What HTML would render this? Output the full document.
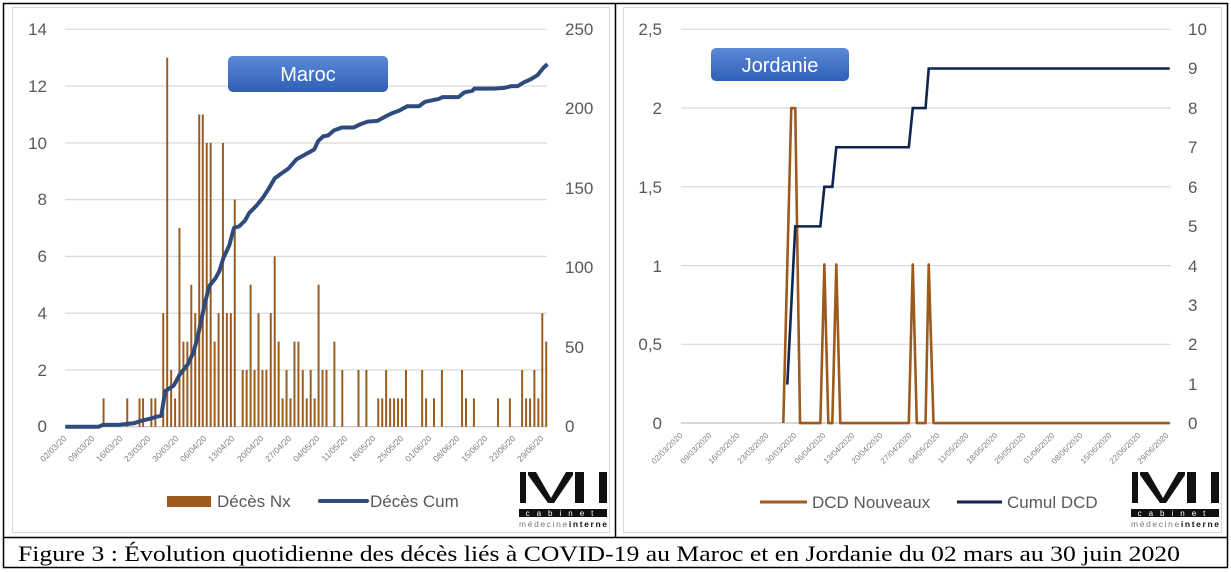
<!DOCTYPE html>
<html><head><meta charset="utf-8"><style>
body{margin:0;background:#fff;}
svg{display:block;font-family:"Liberation Sans",sans-serif;}
</style></head><body>
<svg width="1231" height="572" viewBox="0 0 1231 572" xmlns="http://www.w3.org/2000/svg">
<defs>
<linearGradient id="bg" x1="0" y1="0" x2="0" y2="1"><stop offset="0" stop-color="#5b8ad6"/><stop offset="1" stop-color="#2f5fb8"/></linearGradient>
<g id="logo">
<rect x="0" y="0" width="6" height="31" fill="#111"/>
<polygon points="8,0 16,0 31,26 46,0 53,0 53,3 34,31 28,31 8,3" fill="#111"/>
<rect x="55" y="0" width="9" height="31" fill="#111"/>
<rect x="79" y="0" width="8" height="31" fill="#111"/>
<rect x="-1" y="37" width="88" height="8" fill="#111"/>
<text x="43" y="44" font-size="8" fill="#fff" text-anchor="middle" letter-spacing="7">cabinet</text>
<text x="-1" y="55" font-size="8.5" fill="#777" textLength="88">médecine<tspan fill="#111" font-weight="bold">interne</tspan></text>
</g>
</defs>
<rect x="3.5" y="3.5" width="1224" height="564" fill="none" stroke="#000" stroke-width="1.5"/>
<line x1="3" y1="537.5" x2="1228" y2="537.5" stroke="#000" stroke-width="1.5"/>
<line x1="615.5" y1="3" x2="615.5" y2="537" stroke="#000" stroke-width="1.5"/>
<rect x="12.5" y="7.5" width="597" height="525" fill="none" stroke="#d9d9d9"/>
<rect x="623.5" y="7.5" width="598" height="525" fill="none" stroke="#d9d9d9"/>

<!-- LEFT CHART -->
<g stroke="#d9d9d9" stroke-width="1.2">
<line x1="65" y1="29.3" x2="547" y2="29.3"/><line x1="65" y1="86" x2="547" y2="86"/><line x1="65" y1="143" x2="547" y2="143"/><line x1="65" y1="199.6" x2="547" y2="199.6"/><line x1="65" y1="256.4" x2="547" y2="256.4"/><line x1="65" y1="313.2" x2="547" y2="313.2"/><line x1="65" y1="370" x2="547" y2="370"/><line x1="65" y1="426.7" x2="547" y2="426.7" stroke="#bfbfbf"/>
</g>
<g font-size="17" fill="#595959" text-anchor="end">
<text x="47" y="35">14</text><text x="47" y="92">12</text><text x="47" y="149">10</text><text x="47" y="205">8</text><text x="47" y="262">6</text><text x="47" y="319">4</text><text x="47" y="376">2</text><text x="47" y="432">0</text>
</g>
<g font-size="17" fill="#595959">
<text x="565" y="35">250</text><text x="565" y="114">200</text><text x="565" y="194">150</text><text x="565" y="273">100</text><text x="565" y="353">50</text><text x="565" y="432">0</text>
</g>
<g transform="scale(0.39526,0.36630)">
<path fill="#9c5a1c" d="M259.5 1165V1087.5h5V1165zM319.5 1165V1087.5h5V1165zM350.5 1165V1087.5h5V1165zM359.5 1165V1087.5h5V1165zM380.5 1165V1087.5h5V1165zM390.5 1165V1087.5h5V1165zM410.5 1165V855h5V1165zM420.5 1165V157.5h5V1165zM430.5 1165V1010h5V1165zM440.5 1165V1087.5h5V1165zM451.5 1165V622.5h5V1165zM461.5 1165V932.5h5V1165zM471.5 1165V932.5h5V1165zM481.5 1165V777.5h5V1165zM491.5 1165V855h5V1165zM501.5 1165V312.5h5V1165zM510.5 1165V312.5h5V1165zM520.5 1165V390h5V1165zM530.5 1165V390h5V1165zM540.5 1165V932.5h5V1165zM550.5 1165V855h5V1165zM561.5 1165V390h5V1165zM571.5 1165V855h5V1165zM581.5 1165V855h5V1165zM591.5 1165V545h5V1165zM611.5 1165V1010h5V1165zM621.5 1165V1010h5V1165zM631.5 1165V777.5h5V1165zM641.5 1165V1010h5V1165zM651.5 1165V855h5V1165zM661.5 1165V1010h5V1165zM671.5 1165V1010h5V1165zM682.5 1165V855h5V1165zM692.5 1165V700h5V1165zM702.5 1165V932.5h5V1165zM712.5 1165V1087.5h5V1165zM722.5 1165V1010h5V1165zM732.5 1165V1087.5h5V1165zM742.5 1165V932.5h5V1165zM752.5 1165V932.5h5V1165zM763.5 1165V1010h5V1165zM773.5 1165V1087.5h5V1165zM783.5 1165V1010h5V1165zM793.5 1165V1087.5h5V1165zM803.5 1165V777.5h5V1165zM813.5 1165V1010h5V1165zM823.5 1165V1010h5V1165zM843.5 1165V932.5h5V1165zM863.5 1165V1010h5V1165zM904.5 1165V1010h5V1165zM924.5 1165V1010h5V1165zM954.5 1165V1087.5h5V1165zM964.5 1165V1087.5h5V1165zM974.5 1165V1010h5V1165zM984.5 1165V1087.5h5V1165zM994.5 1165V1087.5h5V1165zM1004.5 1165V1087.5h5V1165zM1014.5 1165V1087.5h5V1165zM1024.5 1165V1010h5V1165zM1065.5 1165V1010h5V1165zM1075.5 1165V1087.5h5V1165zM1095.5 1165V1087.5h5V1165zM1115.5 1165V1010h5V1165zM1166.5 1165V1010h5V1165zM1176.5 1165V1087.5h5V1165zM1196.5 1165V1087.5h5V1165zM1257.5 1165V1087.5h5V1165zM1287.5 1165V1087.5h5V1165zM1318.5 1165V1010h5V1165zM1328.5 1165V1087.5h5V1165zM1338.5 1165V1087.5h5V1165zM1349.5 1165V1010h5V1165zM1359.5 1165V1087.5h5V1165zM1369.5 1165V855h5V1165zM1379.5 1165V932.5h5V1165z"/>
<polyline fill="none" stroke="#2f4b7c" stroke-width="4" stroke-linejoin="round" vector-effect="non-scaling-stroke" points="165,1165 250,1165 260,1160 300,1160 340,1155 360,1148 380,1143 395,1138 408,1135 418,1068 440,1052 455,1022 475,995 490,960 500,920 510,870 520,820 530,780 545,760 555,740 565,705 580,670 592,622 605,618 620,602 630,582 650,560 665,540 680,515 695,487 710,475 730,460 750,435 775,420 795,408 805,385 818,372 830,370 845,356 865,348 895,348 910,340 930,332 955,330 975,318 990,310 1010,302 1030,290 1060,290 1075,278 1110,270 1120,265 1160,265 1175,252 1195,248 1200,242 1250,242 1275,240 1295,235 1310,235 1325,225 1345,215 1360,205 1375,185 1385,175"/>
</g>
<g font-size="8.5" fill="#7f7f7f" text-anchor="end">
<text transform="translate(67,439) rotate(-45)">02/03/20</text>
<text transform="translate(95,439) rotate(-45)">09/03/20</text>
<text transform="translate(123,439) rotate(-45)">16/03/20</text>
<text transform="translate(151,439) rotate(-45)">23/03/20</text>
<text transform="translate(179,439) rotate(-45)">30/03/20</text>
<text transform="translate(207,439) rotate(-45)">06/04/20</text>
<text transform="translate(235,439) rotate(-45)">13/04/20</text>
<text transform="translate(264,439) rotate(-45)">20/04/20</text>
<text transform="translate(292,439) rotate(-45)">27/04/20</text>
<text transform="translate(320,439) rotate(-45)">04/05/20</text>
<text transform="translate(348,439) rotate(-45)">11/05/20</text>
<text transform="translate(376,439) rotate(-45)">18/05/20</text>
<text transform="translate(404,439) rotate(-45)">25/05/20</text>
<text transform="translate(432,439) rotate(-45)">01/06/20</text>
<text transform="translate(460,439) rotate(-45)">08/06/20</text>
<text transform="translate(488,439) rotate(-45)">15/06/20</text>
<text transform="translate(516,439) rotate(-45)">22/06/20</text>
<text transform="translate(544,439) rotate(-45)">29/06/20</text>
</g>
<rect x="228" y="56" width="160" height="36" rx="5" fill="url(#bg)"/>
<text x="308" y="81" font-size="20" fill="#fff" text-anchor="middle">Maroc</text>
<rect x="167" y="496" width="44" height="11" fill="#9c5a1c"/>
<text x="217" y="507" font-size="17" fill="#595959">Décès Nx</text>
<line x1="320" y1="501" x2="367" y2="501" stroke="#2f4b7c" stroke-width="4" stroke-linecap="round"/>
<text x="370" y="507" font-size="17" fill="#595959">Décès Cum</text>
<use href="#logo" transform="translate(520,472)"/>

<!-- RIGHT CHART -->
<g stroke="#d9d9d9" stroke-width="1.2">
<line x1="681" y1="29.3" x2="1171" y2="29.3"/><line x1="681" y1="108" x2="1171" y2="108"/><line x1="681" y1="186.8" x2="1171" y2="186.8"/><line x1="681" y1="265.6" x2="1171" y2="265.6"/><line x1="681" y1="344.3" x2="1171" y2="344.3"/><line x1="681" y1="423" x2="1171" y2="423" stroke="#bfbfbf"/>
</g>
<g font-size="17" fill="#595959" text-anchor="end">
<text x="662" y="35">2,5</text><text x="662" y="114">2</text><text x="662" y="193">1,5</text><text x="662" y="272">1</text><text x="662" y="350">0,5</text><text x="662" y="429">0</text>
</g>
<g font-size="17" fill="#595959">
<text x="1188" y="35">10</text><text x="1188" y="74">9</text><text x="1188" y="114">8</text><text x="1188" y="153">7</text><text x="1188" y="193">6</text><text x="1188" y="232">5</text><text x="1188" y="272">4</text><text x="1188" y="311">3</text><text x="1188" y="350">2</text><text x="1188" y="390">1</text><text x="1188" y="429">0</text>
</g>
<g transform="translate(610,0) scale(0.39841,0.36630)">
<polyline fill="none" stroke="#9c5a1c" stroke-width="2.6" stroke-linejoin="round" vector-effect="non-scaling-stroke" points="435,1155 455,295 465,295 477,1155 528,1155 538,722 548,1155 558,1155 568,722 578,1155 750,1155 760,722 770,1155 792,1155 800,722 812,1155 1405,1155"/>
<polyline fill="none" stroke="#0f2450" stroke-width="2.6" vector-effect="non-scaling-stroke" points="445,1050 465,618 528,618 538,510 558,510 568,402 750,402 760,295 792,295 800,187 1405,187"/>
</g>
<g font-size="8" fill="#7f7f7f" text-anchor="end">
<text transform="translate(683,436) rotate(-45)">02/03/2020</text>
<text transform="translate(712,436) rotate(-45)">09/03/2020</text>
<text transform="translate(740,436) rotate(-45)">16/03/2020</text>
<text transform="translate(769,436) rotate(-45)">23/03/2020</text>
<text transform="translate(797,436) rotate(-45)">30/03/2020</text>
<text transform="translate(826,436) rotate(-45)">06/04/2020</text>
<text transform="translate(855,436) rotate(-45)">13/04/2020</text>
<text transform="translate(883,436) rotate(-45)">20/04/2020</text>
<text transform="translate(912,436) rotate(-45)">27/04/2020</text>
<text transform="translate(940,436) rotate(-45)">04/05/2020</text>
<text transform="translate(969,436) rotate(-45)">11/05/2020</text>
<text transform="translate(998,436) rotate(-45)">18/05/2020</text>
<text transform="translate(1026,436) rotate(-45)">25/05/2020</text>
<text transform="translate(1055,436) rotate(-45)">01/06/2020</text>
<text transform="translate(1083,436) rotate(-45)">08/06/2020</text>
<text transform="translate(1112,436) rotate(-45)">15/06/2020</text>
<text transform="translate(1141,436) rotate(-45)">22/06/2020</text>
<text transform="translate(1169,436) rotate(-45)">29/06/2020</text>
</g>
<rect x="711" y="48" width="138" height="33" rx="5" fill="url(#bg)"/>
<text x="780" y="72" font-size="20" fill="#fff" text-anchor="middle">Jordanie</text>
<line x1="760" y1="502" x2="807" y2="502" stroke="#9c5a1c" stroke-width="3"/>
<text x="812" y="508" font-size="17" fill="#595959">DCD Nouveaux</text>
<line x1="957" y1="502" x2="1002" y2="502" stroke="#0f2450" stroke-width="3"/>
<text x="1007" y="508" font-size="17" fill="#595959">Cumul DCD</text>
<use href="#logo" transform="translate(1132,472)"/>

<text x="18" y="561" font-family="'Liberation Serif',serif" font-size="22" fill="#000" textLength="1162" lengthAdjust="spacingAndGlyphs">Figure 3 : Évolution quotidienne des décès liés à COVID-19 au Maroc et en Jordanie du 02 mars au 30 juin 2020</text>
</svg>
</body></html>
